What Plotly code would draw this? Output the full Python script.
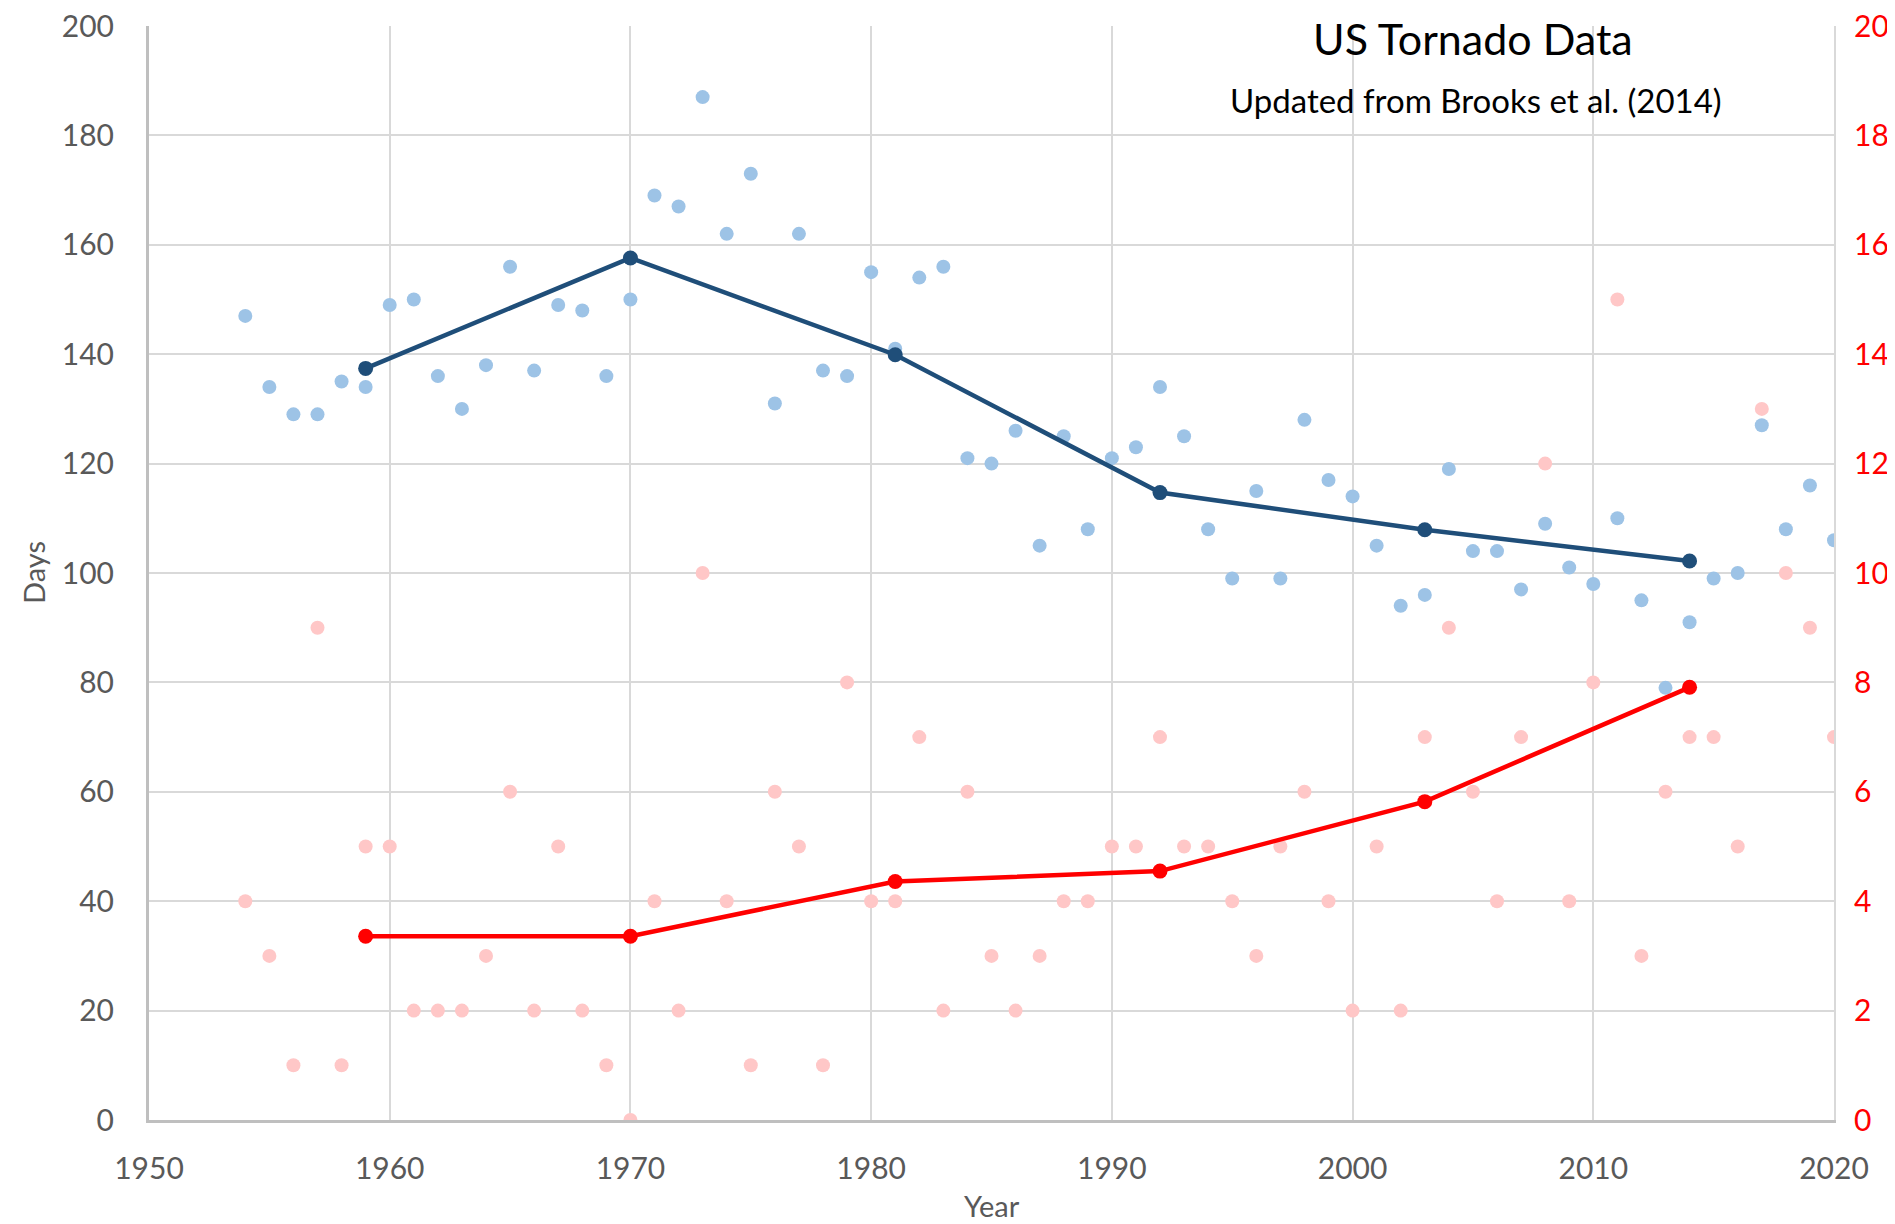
import plotly.graph_objects as go

years = list(range(1954, 2021))

days = [147, 134, 129, 129, 135, 134, 149, 150, 136, 130, 138,
        156, 137, 149, 148, 136, 150, 169, 167, 187, 162, 173,
        131, 162, 137, 136, 155, 141, 154, 156, 121, 120, 126,
        105, 125, 108, 121, 123, 134, 125, 108, 99, 115, 99,
        128, 117, 114, 105, 94, 96, 119, 104, 104, 97, 109,
        101, 98, 110, 95, 79, 91, 99, 100, 127, 108, 116,
        106]

counts = [4, 3, 1, 9, 1, 5, 5, 2, 2, 2, 3,
          6, 2, 5, 2, 1, 0, 4, 2, 10, 4, 1,
          6, 5, 1, 8, 4, 4, 7, 2, 6, 3, 2,
          3, 4, 4, 5, 5, 7, 5, 5, 4, 3, 5,
          6, 4, 2, 5, 2, 7, 9, 6, 4, 7, 12,
          4, 8, 15, 3, 6, 7, 7, 5, 13, 10, 9,
          7]

trend_years = [1959, 1970, 1981, 1992, 2003, 2014]
days_trend = [137.4, 157.6, 139.9, 114.7, 107.9, 102.2]
counts_trend = [3.36, 3.36, 4.36, 4.55, 5.82, 7.91]

x_ticks = [1950, 1960, 1970, 1980, 1990, 2000, 2010, 2020]
left_ticks = list(range(0, 201, 20))
right_ticks = list(range(0, 21, 2))

FONT = "Lato, 'Open Sans', sans-serif"
GRID = "#D9D9D9"
AXIS = "#BFBFBF"
TXT = "#595959"

fig = go.Figure()

fig.add_trace(go.Scatter(
    x=years, y=days, mode="markers",
    marker=dict(size=14, color="#9DC3E6"),
    showlegend=False, yaxis="y"))

fig.add_trace(go.Scatter(
    x=trend_years, y=days_trend, mode="lines+markers",
    line=dict(color="#1F4E79", width=4.5),
    marker=dict(size=15, color="#1F4E79"),
    showlegend=False, yaxis="y"))

fig.add_trace(go.Scatter(
    x=years, y=counts, mode="markers",
    marker=dict(size=14, color="#FFC7C7"),
    showlegend=False, yaxis="y2"))

fig.add_trace(go.Scatter(
    x=trend_years, y=counts_trend, mode="lines+markers",
    line=dict(color="#FF0000", width=4.5),
    marker=dict(size=15, color="#FF0000"),
    showlegend=False, yaxis="y2"))

fig.update_layout(
    width=1887, height=1216,
    margin=dict(l=141, r=61, t=18, b=104, autoexpand=False),
    paper_bgcolor="white", plot_bgcolor="white",
    font=dict(family=FONT, size=30, color=TXT),
    xaxis=dict(
        range=[1950, 2020], tickvals=x_ticks, ticktext=[str(v) for v in x_ticks],
        showgrid=True, gridcolor=GRID, gridwidth=2,
        showline=True, linecolor=AXIS, linewidth=3,
        zeroline=False, ticks="", ticklabelstandoff=20, automargin=False,
        ticklabeloverflow="allow",
        tickfont=dict(family=FONT, size=30, color=TXT),
    ),
    yaxis=dict(
        range=[0, 200], tickvals=left_ticks,
        showgrid=True, gridcolor=GRID, gridwidth=2,
        showline=True, linecolor=AXIS, linewidth=3,
        zeroline=False, ticks="", ticklabelstandoff=26, automargin=False,
        ticklabeloverflow="allow",
        tickfont=dict(family=FONT, size=30, color=TXT),
    ),
    yaxis2=dict(
        range=[0, 20], tickvals=right_ticks, overlaying="y", side="right",
        showgrid=False, showline=True, linecolor=GRID, linewidth=2,
        zeroline=False, ticks="", ticklabelstandoff=12, automargin=False,
        ticklabeloverflow="allow",
        tickfont=dict(family=FONT, size=30, color="#FF0000"),
    ),
    annotations=[
        dict(text="US Tornado Data", xref="paper", yref="paper",
             x=0.786, y=0.989, xanchor="center", yanchor="middle",
             showarrow=False, font=dict(family=FONT, size=43, color="black")),
        dict(text="Updated from Brooks et al. (2014)", xref="paper", yref="paper",
             x=0.7875, y=0.9326, xanchor="center", yanchor="middle",
             showarrow=False, font=dict(family=FONT, size=33, color="black")),
        dict(text="Days", xref="paper", yref="paper", x=0, y=0.5,
             xanchor="center", yanchor="middle", xshift=-116, textangle=-90,
             showarrow=False, font=dict(family=FONT, size=29, color=TXT)),
        dict(text="Year", xref="paper", yref="paper", x=0.5, y=0,
             xanchor="center", yanchor="middle", yshift=-85,
             showarrow=False, font=dict(family=FONT, size=29, color=TXT)),
    ],
)

fig.write_html("out.html")
